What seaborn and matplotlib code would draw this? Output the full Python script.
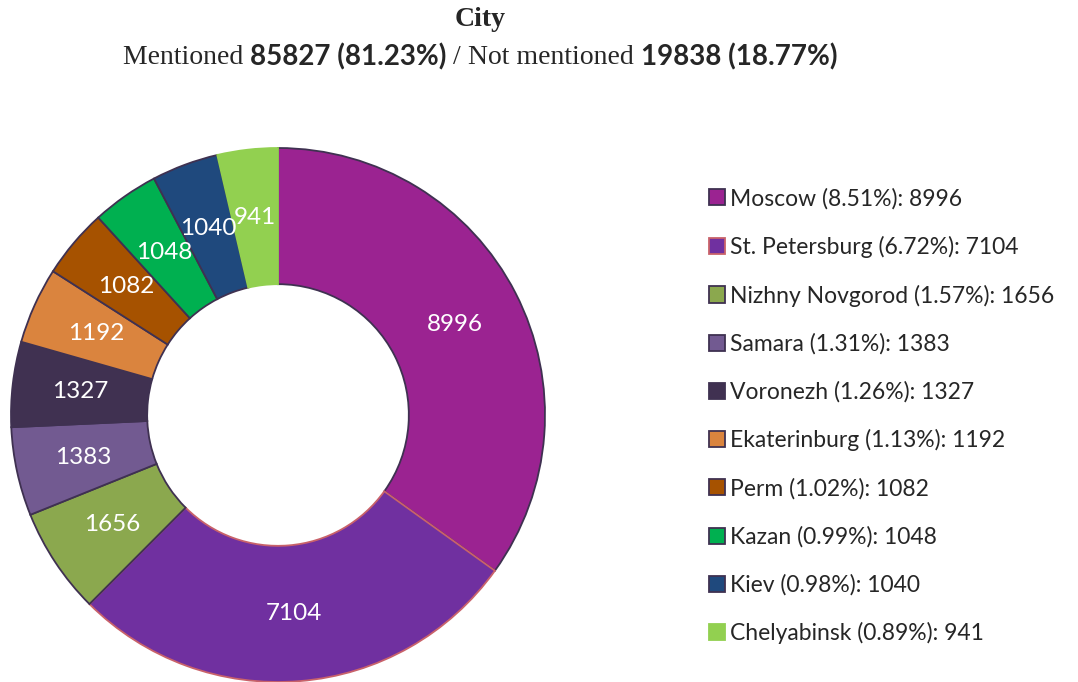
import matplotlib
matplotlib.use("Agg")
import matplotlib.pyplot as plt
import matplotlib.patches as mpatches
import seaborn as sns

# data
cities = ["Moscow", "St. Petersburg", "Nizhny Novgorod", "Samara", "Voronezh",
          "Ekaterinburg", "Perm", "Kazan", "Kiev", "Chelyabinsk"]
counts = [8996, 7104, 1656, 1383, 1327, 1192, 1082, 1048, 1040, 941]
shares = [8.51, 6.72, 1.57, 1.31, 1.26, 1.13, 1.02, 0.99, 0.98, 0.89]
colors = ["#9B2391", "#7030A0", "#8BA84E", "#725A91", "#403151",
          "#DA843E", "#A65200", "#00B050", "#1F497D", "#92D050"]
edges = ["#3F3151", "#C9626A", "#3F3151", "#3F3151", "#3F3151",
         "#3F3151", "#3F3151", "#3F3151", "#3F3151", "#92D050"]
mentioned, mentioned_pct = 85827, 81.23
not_mentioned, not_mentioned_pct = 19838, 18.77

sns.set_theme(style="white")
plt.rcParams['font.family'] = ['Lato', 'DejaVu Sans']

W, H = 1078, 682
fig = plt.figure(figsize=(W / 100, H / 100), dpi=100)

# donut
cx, cy, R = 278, 415, 267
ax = fig.add_axes([(cx - R) / W, (H - cy - R) / H, 2 * R / W, 2 * R / H])
wedges, texts = ax.pie(counts, colors=colors, startangle=90, counterclock=False,
                       radius=1.0, labels=[str(c) for c in counts], labeldistance=0.745,
                       wedgeprops=dict(width=0.51, linewidth=1.3),
                       textprops=dict(color="white", fontsize=17.5))
for w, e in zip(wedges, edges):
    w.set_edgecolor(e)
for t in texts:
    t.set_horizontalalignment("center")
    t.set_verticalalignment("center")
ax.set_xlim(-1.0, 1.0)
ax.set_ylim(-1.0, 1.0)
ax.set_aspect("equal")
ax.axis("off")

# legend
handles = [mpatches.Patch(facecolor=c, edgecolor=e, linewidth=1.3) for c, e in zip(colors, edges)]
labels = [f"{n} ({s:.2f}%): {c}" for n, s, c in zip(cities, shares, counts)]
fig.legend(handles, labels, loc="center left", bbox_to_anchor=(688 / W, 1 - 416 / H),
           frameon=False, fontsize=16.5, handlelength=0.7, handleheight=0.7,
           handletextpad=0.22, labelspacing=1.16)

# title
fig.text(480 / W, 1 - 20 / H, "City", ha="center", va="center",
         family="Liberation Serif", fontweight="bold", fontsize=20)

pieces = [("Mentioned ", "Liberation Serif", "normal"),
          (f"{mentioned} ({mentioned_pct:.2f}%)", "Lato", "bold"),
          (" / ", "Liberation Serif", "normal"),
          ("Not mentioned ", "Liberation Serif", "normal"),
          (f"{not_mentioned} ({not_mentioned_pct:.2f}%)", "Lato", "bold")]
renderer = fig.canvas.get_renderer()
objs = []
for txt, fam, wt in pieces:
    t = fig.text(0, 1 - 57 / H, txt, ha="left", va="center", family=fam,
                 fontweight=wt, fontsize=20)
    objs.append(t)
widths = [t.get_window_extent(renderer).width for t in objs]
x = 480 - sum(widths) / 2
for t, w in zip(objs, widths):
    t.set_x(x / W)
    x += w

fig.savefig("out.png", dpi=100)
